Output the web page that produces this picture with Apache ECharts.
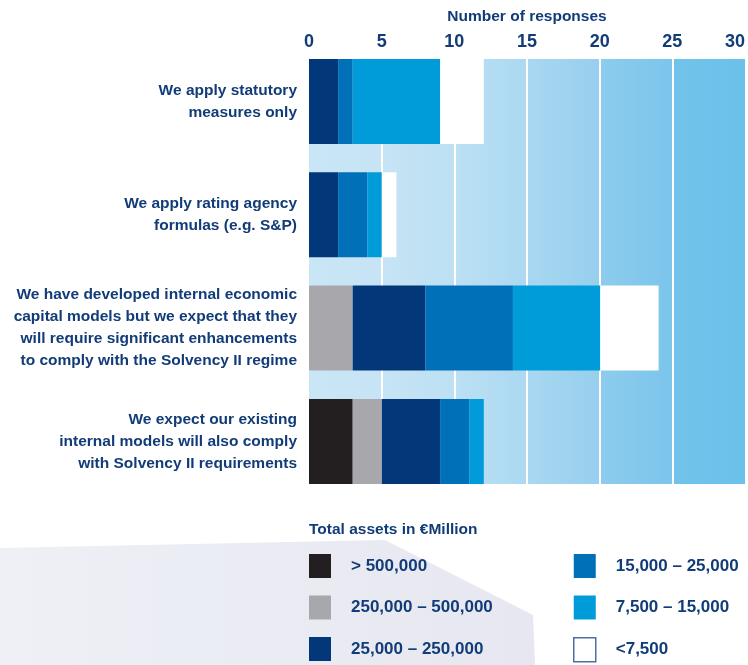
<!DOCTYPE html>
<html>
<head>
<meta charset="utf-8">
<script src="https://cdn.jsdelivr.net/npm/echarts@6/dist/echarts.min.js"></script>
<style>
html,body{margin:0;padding:0;background:#fff;}
#chart{width:748px;height:665px;}
</style>
</head>
<body>
<div id="chart"></div>
<script>
// ---- data ----
var categories = [
  "We apply statutory\nmeasures only",
  "We apply rating agency\nformulas (e.g. S&P)",
  "We have developed internal economic\ncapital models but we expect that they\nwill require significant enhancements\nto comply with the Solvency II regime",
  "We expect our existing\ninternal models will also comply\nwith Solvency II requirements"
];
var seriesNames = ["> 500,000", "250,000 – 500,000", "25,000 – 250,000", "15,000 – 25,000", "7,500 – 15,000", "<7,500"];
var over500000      = [0, 0, 0, 3];
var from250to500k   = [0, 0, 3, 2];
var from25to250k    = [2, 2, 5, 4];
var from15to25k     = [1, 2, 6, 2];
var from7500to15k   = [6, 1, 6, 1];
var under7500       = [3, 1, 4, 0];
var xTicks = [0, 5, 10, 15, 20, 25, 30];
var bandEdges = [0, 5, 10, 15, 20, 25, 30];

// ---- styles ----
var navyText = '#123c78';
var font = "'Liberation Sans', Arial, sans-serif";
var seriesColors = ['#231f20', '#a8a7ab', '#02377a', '#0071b9', '#009bd9', '#ffffff'];
var bandColors = [
  ['#c9e6f6', '#c6e4f5'],
  ['#c6e4f5', '#bde0f3'],
  ['#bce0f4', '#abd9f1'],
  ['#a9d8f1', '#97cfee'],
  ['#8dccee', '#7bc5eb'],
  ['#72c3eb', '#6bc1ea']
];

var seriesData = [over500000, from250to500k, from25to250k, from15to25k, from7500to15k, under7500];

var bandAreas = [];
for (var i = 0; i < bandEdges.length - 1; i++) {
  bandAreas.push([
    {xAxis: bandEdges[i], itemStyle: {color: {type: 'linear', x: 0, y: 0, x2: 1, y2: 0,
      colorStops: [{offset: 0, color: bandColors[i][0]}, {offset: 1, color: bandColors[i][1]}]}}},
    {xAxis: bandEdges[i + 1]}
  ]);
}
var sepLines = [];
for (var j = 1; j < bandEdges.length - 1; j++) sepLines.push({xAxis: bandEdges[j]});

var series = [{
  type: 'line',
  xAxisIndex: 0, yAxisIndex: 0,
  data: [],
  silent: true,
  z: 0,
  markArea: {silent: true, data: bandAreas},
  markLine: {silent: true, symbol: 'none', label: {show: false},
    lineStyle: {color: '#ffffff', width: 2, type: 'solid'}, data: sepLines}
}];
for (var k = 0; k < seriesNames.length; k++) {
  series.push({
    name: seriesNames[k],
    type: 'bar',
    stack: 'total',
    xAxisIndex: 1, yAxisIndex: 1,
    barWidth: 85,
    z: 5,
    itemStyle: {color: seriesColors[k]},
    data: seriesData[k]
  });
}

var legendText = {color: navyText, fontFamily: font, fontWeight: 'bold', fontSize: 17, padding: [0, 0, 0, 15]};

var chart = echarts.init(document.getElementById('chart'), null, {renderer: 'canvas'});
chart.setOption({
  animation: false,
  backgroundColor: '#ffffff',
  graphic: [{
    type: 'polygon', z: -10, silent: true,
    shape: {points: [[0, 548], [385, 540], [533, 615], [535, 665], [0, 665]]},
    style: {fill: {type: 'linear', x: 0, y: 0, x2: 1, y2: 0,
      colorStops: [{offset: 0, color: '#eef0f6'}, {offset: 1, color: '#e6e7f0'}]}}
  }],
  title: {
    text: 'Total assets in €Million',
    left: 304, top: 517,
    textStyle: {color: navyText, fontFamily: font, fontWeight: 'bold', fontSize: 15.5}
  },
  grid: [
    {left: 309, right: 2, top: 59, bottom: 181},
    {left: 309, right: 2, top: 44.8, bottom: 166.9}
  ],
  xAxis: [{
    gridIndex: 0, type: 'value', position: 'top', min: 0, max: 30, interval: 5,
    name: 'Number of responses', nameLocation: 'middle', nameGap: 34,
    nameTextStyle: {color: navyText, fontFamily: font, fontWeight: 'bold', fontSize: 15.5},
    axisLine: {show: false}, axisTick: {show: false}, splitLine: {show: false},
    axisLabel: {color: navyText, fontFamily: font, fontWeight: 'bold', fontSize: 18, margin: 8,
      alignMaxLabel: 'right',
      formatter: function (v) { return xTicks.indexOf(v) >= 0 ? String(v) : ''; }}
  }, {
    gridIndex: 1, type: 'value', min: 0, max: 30, interval: 5, show: false
  }],
  yAxis: [{
    gridIndex: 0, type: 'value', min: 0, max: 1, show: false
  }, {
    gridIndex: 1, type: 'category', data: categories, inverse: true,
    axisLine: {show: false}, axisTick: {show: false}, splitLine: {show: false},
    axisLabel: {color: navyText, fontFamily: font, fontWeight: 'bold', fontSize: 15.5,
      lineHeight: 22, margin: 12, align: 'right'}
  }],
  legend: [{
    orient: 'vertical', left: 309, top: 554, padding: 0,
    itemWidth: 22, itemHeight: 24, itemGap: 17.5, icon: 'rect',
    selectedMode: false,
    textStyle: legendText,
    data: seriesNames.slice(0, 3)
  }, {
    orient: 'vertical', left: 573, top: 554, padding: 0,
    itemWidth: 22, itemHeight: 24, itemGap: 17.5, icon: 'rect',
    selectedMode: false,
    textStyle: legendText,
    data: [seriesNames[3], seriesNames[4],
      {name: seriesNames[5], itemStyle: {color: '#ffffff', borderColor: '#4d6fa3', borderWidth: 1.5}}]
  }],
  series: series
});
</script>
</body>
</html>
